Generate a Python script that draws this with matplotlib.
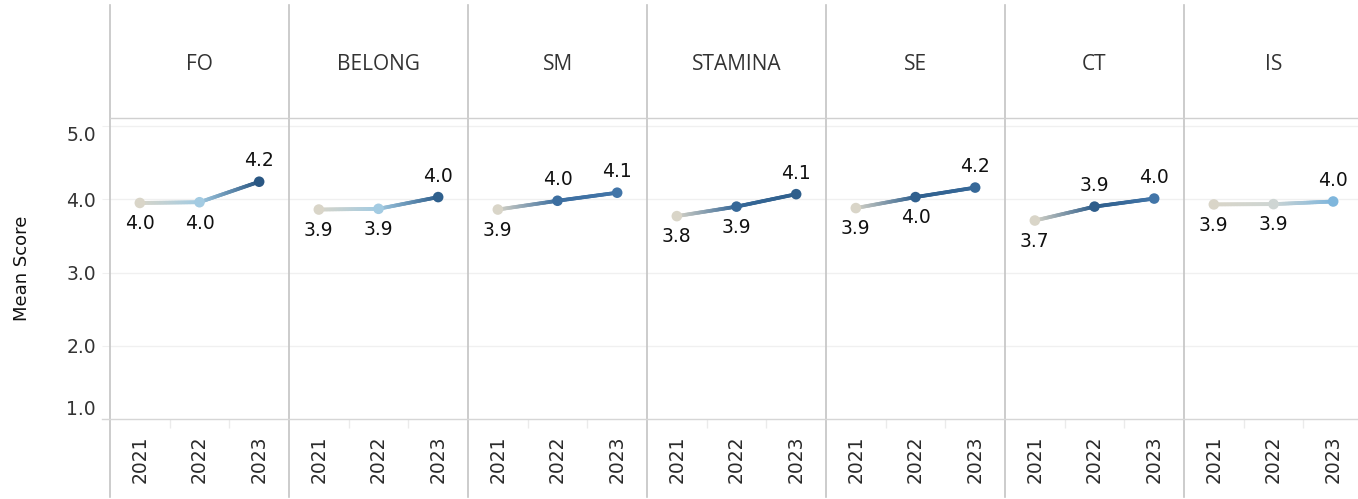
import numpy as np
import matplotlib
matplotlib.use('Agg')
import matplotlib.pyplot as plt
from matplotlib.collections import LineCollection
from matplotlib.colors import LinearSegmentedColormap, Normalize
from matplotlib.lines import Line2D


YEARS = ['2021', '2022', '2023']
SCALES = ['FO', 'BELONG', 'SM', 'STAMINA', 'SE', 'CT', 'IS']

# mean score per year for each scale
FO = [3.95, 3.96, 4.24]
BELONG = [3.86, 3.87, 4.03]
SM = [3.86, 3.98, 4.09]
STAMINA = [3.77, 3.90, 4.07]
SE = [3.88, 4.03, 4.16]
CT = [3.71, 3.90, 4.01]
IS = [3.93, 3.934, 3.97]
MEANS = [FO, BELONG, SM, STAMINA, SE, CT, IS]

# where the value label goes: 1 above the point, -1 below
LABEL_SIDE = [
    [-1, -1, 1],
    [-1, -1, 1],
    [-1, 1, 1],
    [-1, -1, 1],
    [-1, -1, 1],
    [-1, 1, 1],
    [-1, -1, 1],
]

W, H = 1358, 499
LEFT, COLW = 110, 179
TOP, BOTTOM = 118, 419
GRID = '#c4c4c4'

# colour follows the change from the year before
change_cmap = LinearSegmentedColormap.from_list('change', [
    (0.0, '#d9d5c8'), (0.02, '#c6d5da'), (0.035, '#a3cbe2'),
    (0.13, '#7db5dc'), (0.38, '#4477ab'), (0.5, '#30618f'),
    (1.0, '#2a5783')])
norm = Normalize(0, 0.28)


def px(x, y):
    return x / W, 1 - y / H


def gradient_line(ax, xs, ys, rgba, steps=40):
    # blend straight from one point colour to the next
    segs, cols = [], []
    for k in range(len(xs) - 1):
        t = np.linspace(0, 1, steps + 1)
        sx = xs[k] + (xs[k + 1] - xs[k]) * t
        sy = ys[k] + (ys[k + 1] - ys[k]) * t
        pts = np.column_stack([sx, sy]).reshape(-1, 1, 2)
        segs.extend(np.concatenate([pts[:-1], pts[1:]], axis=1))
        tm = ((t[:-1] + t[1:]) / 2)[:, None]
        cols.extend(rgba[k] * (1 - tm) + rgba[k + 1] * tm)
    lc = LineCollection(segs, colors=cols, linewidths=2.7, capstyle='round', zorder=2)
    ax.add_collection(lc)


fig = plt.figure(figsize=(W / 100, H / 100), dpi=100)
x = np.arange(len(YEARS))

for i, (name, vals) in enumerate(zip(SCALES, MEANS)):
    ax = fig.add_axes([(LEFT + COLW * i) / W, (H - BOTTOM) / H,
                       COLW / W, (BOTTOM - TOP) / H])
    ax.set_xlim(-0.5, 2.5)
    ax.set_ylim(1.0, 5.11)
    for s in ax.spines.values():
        s.set_visible(False)
    for g in [2, 3, 4, 5]:
        ax.axhline(g, color='#f0f0f0', lw=1, zorder=0)

    vals = np.array(vals)
    diffs = np.concatenate([[0], np.diff(vals)])
    rgba = change_cmap(norm(diffs))
    gradient_line(ax, x, vals, rgba)
    ax.scatter(x, vals, c=rgba, s=58, zorder=3, linewidths=0)
    for xi, v, side in zip(x, vals, LABEL_SIDE[i]):
        ax.annotate(f'{v:.1f}', (xi, v), xytext=(0, 15 * side),
                    textcoords='offset points', ha='center', va='center',
                    fontsize=13.5, color='#111111')

    ax.set_xticks(x)
    ax.set_xticklabels(YEARS, rotation=90, fontsize=13.5, color='#2a2a2a')
    ax.tick_params(axis='x', length=0, pad=12)
    ax.vlines([0.5, 1.5], -0.03, 0, transform=ax.get_xaxis_transform(),
              color='#ebebeb', lw=1, clip_on=False)

    if i == 0:
        ax.set_yticks([1, 2, 3, 4, 5])
        ax.set_yticklabels(['1.0', '2.0', '3.0', '4.0', '5.0'],
                           fontsize=13.5, color='#333333')
        ax.tick_params(axis='y', length=6, color='#f0f0f0', pad=4)
        labels = ax.get_yticklabels()
        labels[0].set_va('bottom')
        labels[-1].set_va('top')
    else:
        ax.set_yticks([])

    cx, cy = px(LEFT + COLW * i + COLW / 2, 64)
    fig.text(cx, cy, name, ha='center', va='center', fontsize=15,
             color='#333333', family='Open Sans')

    # column divider
    fig.add_artist(Line2D([px(LEFT + COLW * i, 0)[0]] * 2,
                          [px(0, 5)[1], px(0, 497)[1]],
                          color=GRID, lw=1.2))

# header rule and x-axis rule
fig.add_artist(Line2D([px(LEFT, 0)[0], 1], [px(0, TOP)[1]] * 2, color='#d0d0d0', lw=1))
fig.add_artist(Line2D([px(102, 0)[0], 1], [px(0, BOTTOM)[1]] * 2, color='#d6d6d6', lw=1))

fig.text(*px(22, 268), 'Mean Score', rotation=90, ha='center', va='center',
         fontsize=13, color='#111111')

fig.savefig('out.png', dpi=100)
